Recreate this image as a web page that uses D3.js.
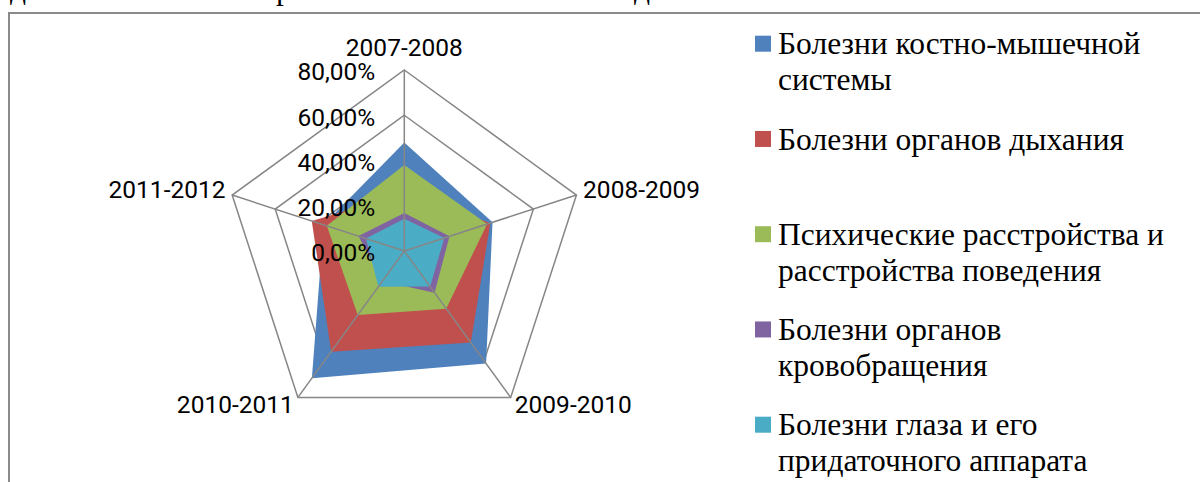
<!DOCTYPE html>
<html>
<meta charset="utf-8">
<head>
<style>
  body { margin: 0; background: #fff; }
  svg { display: block; }
  .tick, .cat { font-family: Roboto, "Open Sans", sans-serif; font-size: 24.5px; fill: #000; }
  .leg { font-family: "Liberation Serif", "Times New Roman", serif; font-size: 31.5px; fill: #000; }
</style>
<script src="https://d3js.org/d3.v7.min.js"></script>
</head>
<body>
<svg></svg>
<script>
var width = 1200, height = 482;

// data (percent)
var categories = ["2007-2008", "2008-2009", "2009-2010", "2010-2011", "2011-2012"];
var seriesNames = [
    ["Болезни костно-мышечной", "системы"],
    ["Болезни органов дыхания"],
    ["Психические расстройства и", "расстройства поведения"],
    ["Болезни органов", "кровобращения"],
    ["Болезни глаза и его", "придаточного аппарата"]
];
var musculo = [48, 41, 61.5, 69.5, 37.5];
var resp    = [25.5, 40, 50, 55, 43];
var mental  = [38, 38.5, 31.5, 35, 36];
var circ    = [16.8, 21, 22.8, 16.5, 21.3];
var eye     = [14.3, 18.6, 19.4, 19.5, 17.8];
var tickValues = [0, 20, 40, 60, 80];
var colors = ["#4F81BD", "#C0504D", "#9BBB59", "#8064A2", "#4BACC6"];

var series = [musculo, resp, mental, circ, eye];

var svg = d3.select("svg")
    .attr("width", width)
    .attr("height", height);

// frame (cut off on right/bottom)
svg.append("path")
    .attr("d", "M9," + height + " V13 H" + width)
    .attr("fill", "none")
    .attr("stroke", "#8a8a8a")
    .attr("stroke-width", 2);

// bits of the text line above the frame
svg.append("g").attr("class", "leg")
    .selectAll("text")
    .data([["д", 10], ["р", 276], ["д", 634]])
    .enter().append("text")
    .attr("x", d => d[1])
    .attr("y", -1)
    .text(d => d[0]);

var cx = 404.3, cy = 251;
var r = d3.scaleLinear().domain([0, 80]).range([0, 181]);
var angle = d3.scalePoint().domain(d3.range(categories.length)).range([0, 2 * Math.PI * (categories.length - 1) / categories.length]);

var g = svg.append("g").attr("transform", "translate(" + cx + "," + cy + ")");

var radial = d3.lineRadial()
    .angle((d, i) => angle(i))
    .radius(d => r(d))
    .curve(d3.curveLinearClosed);

// grid pentagons
g.selectAll(".grid")
    .data(tickValues.slice(1))
    .enter().append("path")
    .attr("d", v => radial(categories.map(() => v)))
    .attr("fill", "none")
    .attr("stroke", "#868686")
    .attr("stroke-width", 1.5);

// filled series
g.selectAll(".area")
    .data(series)
    .enter().append("path")
    .attr("d", d => radial(d))
    .attr("fill", (d, i) => colors[i]);

// spokes
g.selectAll(".spoke")
    .data(categories)
    .enter().append("line")
    .attr("x1", 0).attr("y1", 0)
    .attr("x2", (d, i) => r(80) * Math.sin(angle(i)))
    .attr("y2", (d, i) => -r(80) * Math.cos(angle(i)))
    .attr("stroke", "#868686")
    .attr("stroke-width", 1.5);

// tick labels
g.selectAll(".tick")
    .data(tickValues)
    .enter().append("text")
    .attr("class", "tick")
    .attr("x", -29)
    .attr("y", v => -r(v) + 1.5)
    .attr("dy", "0.36em")
    .attr("text-anchor", "end")
    .text(v => d3.format(".2f")(v).replace(".", ",") + "%");

// category labels
g.selectAll(".cat")
    .data(categories)
    .enter().append("text")
    .attr("class", "cat")
    .attr("x", (d, i) => {
        var s = Math.sin(angle(i));
        return (r(80) + 7) * s;
    })
    .attr("y", (d, i) => {
        var c = Math.cos(angle(i));
        if (i == 0) return -r(80) - 23;
        return -r(80) * c + (c < 0 ? 7 : -6);
    })
    .attr("dy", "0.36em")
    .attr("text-anchor", (d, i) => {
        var s = Math.sin(angle(i));
        return Math.abs(s) < 0.01 ? "middle" : (s > 0 ? "start" : "end");
    })
    .text(d => d);

// legend
var leg = svg.append("g").attr("transform", "translate(755,35.7)");
var item = leg.selectAll(".item")
    .data(seriesNames)
    .enter().append("g")
    .attr("transform", (d, i) => "translate(0," + (i * 95.25) + ")");

item.append("rect")
    .attr("width", 16).attr("height", 16)
    .attr("fill", (d, i) => colors[i]);

item.each(function(lines) {
    d3.select(this).selectAll("text")
        .data(lines)
        .enter().append("text")
        .attr("class", "leg")
        .attr("x", 23)
        .attr("y", (l, j) => 18.6 + j * 36)
        .text(l => l);
});
</script>
</body>
</html>
